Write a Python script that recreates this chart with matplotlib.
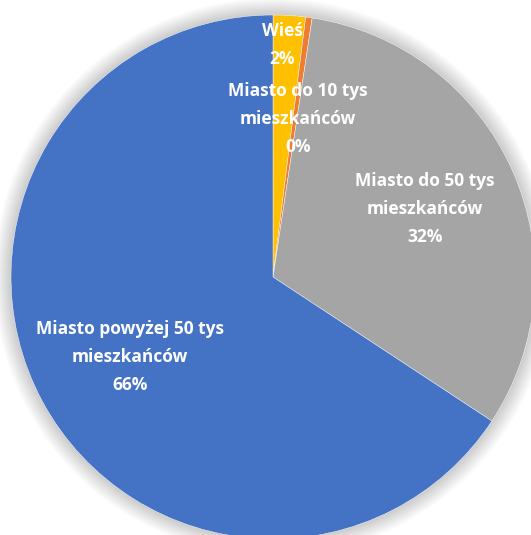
import matplotlib
matplotlib.use("Agg")
import matplotlib.pyplot as plt
from matplotlib.patches import Circle

# respondents by place of residence
categories = ["Wieś", "Miasto do 10 tys\nmieszkańców", "Miasto do 50 tys\nmieszkańców",
              "Miasto powyżej 50 tys\nmieszkańców"]
counts = [5, 1, 80, 165]
colors = ["#FFC000", "#ED7D31", "#A5A5A5", "#4472C4"]

# label anchor points in pixel coords (from top-left)
label_xy = [(282, 45), (298, 119), (425, 209), (130, 357)]

W, H = 531, 535
cx, cy, r = 273, 277, 262

fig = plt.figure(figsize=(W / 100, H / 100), dpi=100)
ax = fig.add_axes([0, 0, 1, 1])

# soft glow around the pie
for k in range(1, 18):
    ax.add_patch(Circle((cx, H - cy), r + k, color="black", alpha=0.010, lw=0, zorder=0))

ax.pie(counts, colors=colors, startangle=90, counterclock=False,
       center=(cx, H - cy), radius=r, frame=True,
       wedgeprops=dict(linewidth=0.3, edgecolor="white"))
ax.set_xlim(0, W)
ax.set_ylim(0, H)
ax.set_aspect("equal")
ax.axis("off")

total = sum(counts)
for name, val, (x, y) in zip(categories, counts, label_xy):
    pct = round(100 * val / total)
    ax.text(x, H - y, f"{name}\n{pct}%", ha="center", va="center",
            color="white", fontsize=12.5, fontweight="bold", family="Open Sans",
            linespacing=1.7, zorder=5)

fig.savefig("out.png", dpi=100)
